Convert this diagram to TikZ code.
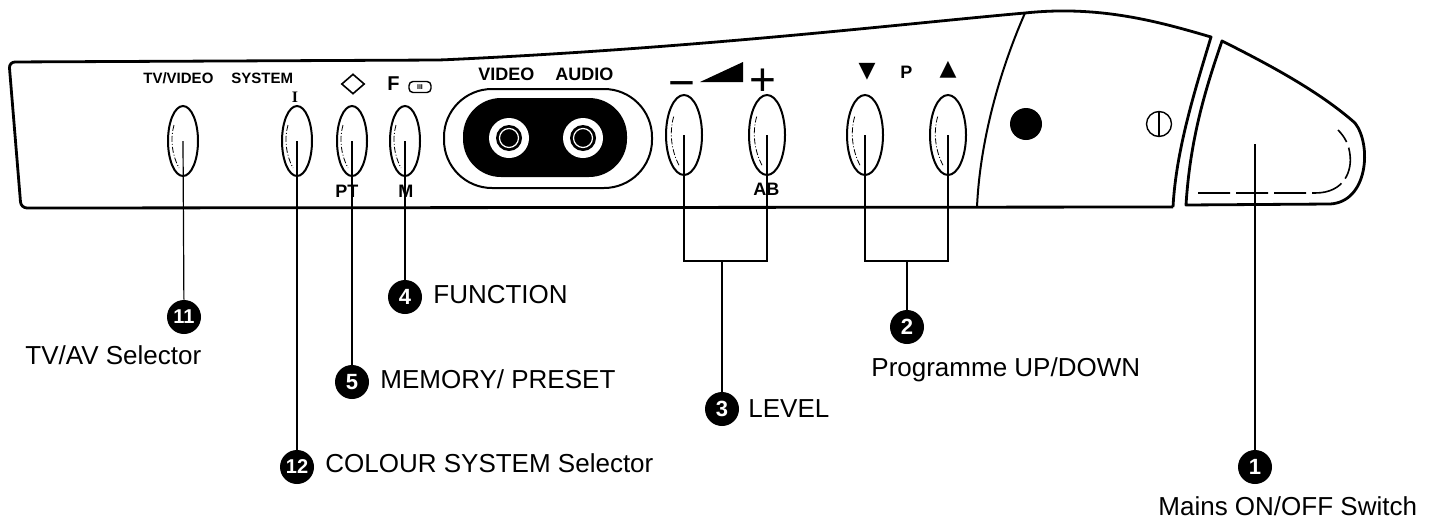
\documentclass[tikz,border=0pt]{standalone}
\usepackage{fontspec}
\setmainfont{Liberation Sans}
\newfontfamily\symfont{DejaVu Sans}
\newfontfamily\seriffont{Liberation Serif}
\usepackage{tikz}
\usetikzlibrary{shapes.geometric,calc}

\tikzset{
  panel/.style={line width=1.4pt, line join=round},
  button/.style={draw, shape=ellipse, line width=1pt, inner sep=0pt, minimum width=15pt, minimum height=35pt},
  bigbutton/.style={button, minimum width=18pt, minimum height=40pt},
  hilite/.style={line width=0.4pt, dash pattern=on 3pt off 1pt on 0.5pt off 1pt},
  leader/.style={line width=0.6pt},
  numdot/.style={shape=circle, fill=black, text=white, inner sep=0pt, minimum size=17pt, font=\bfseries\fontsize{11}{11}\selectfont},
  twonumdot/.style={numdot, font=\bfseries\fontsize{10}{10}\selectfont},
  callout/.style={anchor=base west, inner sep=0pt, font=\fontsize{13}{13}\selectfont},
  tag/.style={anchor=base west, inner sep=0pt, font=\bfseries\fontsize{7.5}{7.5}\selectfont},
  socket/.style={anchor=base west, inner sep=0pt, font=\bfseries\fontsize{9}{9}\selectfont},
  bigsign/.style={anchor=base, inner sep=0pt, font=\fontsize{23}{23}\selectfont},
  arrowsign/.style={inner sep=0pt, font=\symfont\fontsize{11}{11}\selectfont}
}

\begin{document}
\begin{tikzpicture}[x=0.5pt, y=-0.5pt]
\useasboundingbox (0,0) rectangle (1439,520);

% set body
\draw [panel] (1173,207) [rounded corners=3pt] -- (21,208) -- (9,62) -- (440,60) [sharp corners] .. controls (700,48) and (900,24) .. (1025,13) .. controls (1100,5) and (1160,22) .. (1211,37) .. controls (1195,90) and (1176,150) .. (1173,207);
\draw [line width=1pt] (1025,13) .. controls (1000,70) and (980,140) .. (977,207);

% mains switch
\draw [panel] (1186,205) .. controls (1190,140) and (1205,90) .. (1222,41) .. controls (1270,65) and (1320,92) .. (1355,123) .. controls (1372,145) and (1368,202) .. (1330,204) -- cycle;
\draw [line width=0.8pt, dash pattern=on 16pt off 3pt] (1198,193) -- (1315,193) .. controls (1345,193) and (1352,170) .. (1350,155) .. controls (1349,145) and (1345,137) .. (1338,130);
\coordinate (MainsSwitch) at (1255,144);

\fill (1026,124) circle (16);
\draw [line width=0.7pt] (1159,124) circle (12.5);
\draw [line width=0.7pt] (1159,112) -- (1159,136);

% AV sockets
\draw [line width=1pt, rounded corners=24pt] (444,89) rectangle (652,188);
\fill [rounded corners=19pt] (463,98) rectangle (627,177);
\foreach \x in {509,583} {
  \fill [white] (\x,138) circle (20);
  \fill (\x,138) circle (13);
  \draw [white, line width=0.6pt] (\x,138) circle (9.5);
}

% panel markings
\node (TVVideoTag) at (143,83) [tag]{TV/VIDEO};
\node (SystemTag) at (231,83) [tag]{SYSTEM};
\node (SystemMark) at (295,97) [inner sep=0pt, font=\seriffont\bfseries\fontsize{8}{8}\selectfont]{I};
\node (PresetMark) at (353,84) [draw, shape=diamond, line width=0.8pt, inner sep=0pt, minimum width=11.5pt, minimum height=10pt]{};
\node (FunctionMark) at (387,90) [anchor=base west, inner sep=0pt, font=\bfseries\fontsize{10}{10}\selectfont]{F};
\node (FunctionBox) at (420,87) [draw, rounded corners=2pt, line width=0.7pt, minimum width=11pt, minimum height=5.5pt, inner sep=0pt, font=\bfseries\fontsize{3.5}{3.5}\selectfont]{III};
\node (VideoTag) at (478,80) [socket]{VIDEO};
\node (AudioTag) at (555,80) [socket]{AUDIO};
\node (LevelMinus) at (682,98) [bigsign]{−};
\fill (700,82) -- (743,82) -- (743,62) -- cycle;
\node (LevelPlus) at (763,95.5) [bigsign]{+};
\node (ProgDownMark) at (867,72) [arrowsign]{▼};
\node (ProgTag) at (900,78) [socket]{P};
\node (ProgUpMark) at (948,70) [arrowsign]{▲};
\node (PresetTag) at (335,197) [socket]{PT};
\node (MemoryTag) at (398,197) [socket]{M};
\node (ABTag) at (753,195) [socket]{AB};

% buttons
\node (TVVideoBtn) at (183,141) [button]{};
\node (SystemBtn) at (297,141) [button]{};
\node (PresetBtn) at (352,141) [button]{};
\node (FunctionBtn) at (405,141) [button]{};
\node (LevelDownBtn) at (684,135) [bigbutton]{};
\node (LevelUpBtn) at (767,135) [bigbutton]{};
\node (ProgDownBtn) at (865,135) [bigbutton]{};
\node (ProgUpBtn) at (948,135) [bigbutton]{};

\foreach \b/\s in {TVVideoBtn/1, SystemBtn/1, PresetBtn/1, FunctionBtn/1, LevelDownBtn/1.15, LevelUpBtn/1.15, ProgDownBtn/1.15, ProgUpBtn/1.15}
  \draw [hilite] ($(\b.center)+(-9*\s,-16*\s)$) .. controls ($(\b.center)+(-13*\s,-2*\s)$) and ($(\b.center)+(-11*\s,14*\s)$) .. ($(\b.center)+(-4*\s,27*\s)$);

% callouts
\node (Num1) at (1255,467) [numdot]{1};
\node (Num2) at (907,327) [numdot]{2};
\node (Num3) at (722,409) [numdot]{3};
\node (Num4) at (405,297) [numdot]{4};
\node (Num5) at (352,382) [numdot]{5};
\node (Num11) at (184,317) [twonumdot]{11};
\node (Num12) at (297,467) [twonumdot]{12};

\coordinate (LevelJoin) at (722,261);
\coordinate (ProgJoin) at (907,261);

\draw [leader] (MainsSwitch) -- (Num1);
\draw [leader] (ProgDownBtn.center) |- (ProgJoin) -| (ProgUpBtn.center);
\draw [leader] (ProgJoin) -- (Num2);
\draw [leader] (LevelDownBtn.center) |- (LevelJoin) -| (LevelUpBtn.center);
\draw [leader] (LevelJoin) -- (Num3);
\draw [leader] (FunctionBtn.center) -- (Num4);
\draw [leader] (PresetBtn.center) -- (Num5);
\draw [leader] (TVVideoBtn.center) -- (Num11);
\draw [leader] (SystemBtn.center) -- (Num12);

\node (MainsText) at (1158,515) [callout]{Mains ON/OFF Switch};
\node (ProgText) at (871,376) [callout]{Programme UP/DOWN};
\node (LevelText) at (748,417) [callout]{LEVEL};
\node (FunctionText) at (433,303) [callout]{FUNCTION};
\node (MemoryText) at (380,388) [callout]{MEMORY/ PRESET};
\node (TVAVText) at (25,364) [callout]{TV/AV Selector};
\node (ColourText) at (325,472) [callout]{COLOUR SYSTEM Selector};

\end{tikzpicture}
\end{document}
